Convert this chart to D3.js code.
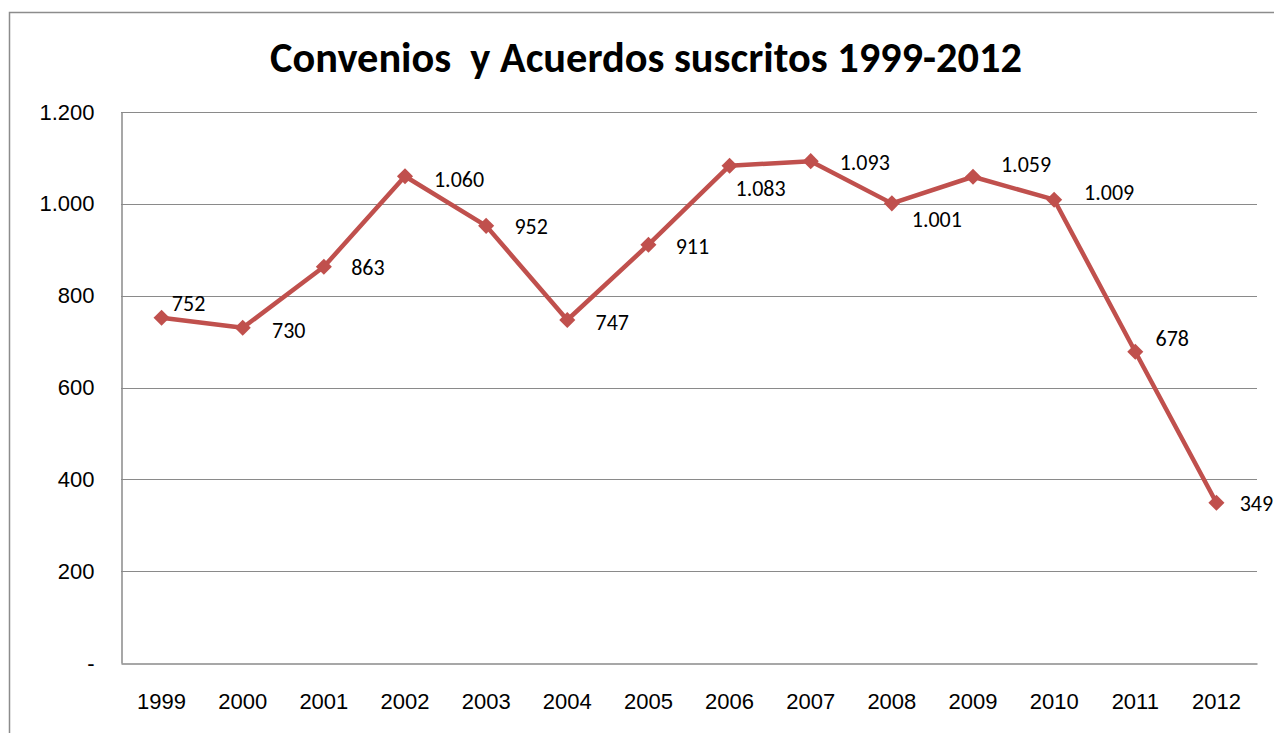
<!DOCTYPE html>
<html>
<head>
<meta charset="utf-8">
<script src="https://cdn.jsdelivr.net/npm/d3@7"></script>
<style>
  html, body { margin: 0; padding: 0; background: #fff; }
  svg { display: block; font-family: Carlito, "Open Sans", "Liberation Sans", sans-serif; }
</style>
</head>
<body>
<script>
// Chart data
const years = ["1999", "2000", "2001", "2002", "2003", "2004", "2005", "2006", "2007", "2008", "2009", "2010", "2011", "2012"];
const convenios = [752, 730, 863, 1060, 952, 747, 911, 1083, 1093, 1001, 1059, 1009, 678, 349];
const yTicks = [0, 200, 400, 600, 800, 1000, 1200];

// Where each data label sits relative to its marker (dx, dy of label centre)
const labelPlacement = [
  [27, -14], [46, 3], [44, 1], [54, 3], [45, 1], [45, 2], [44, 2],
  [31, 23], [54, 1], [45, 16], [53, -12], [55, -7], [37, -13], [40, 1]
];

const width = 1274;
const height = 733;
const margin = { top: 112, right: 17, bottom: 70, left: 121 };
const fontSize = 22;

const locale = d3.formatLocale({ decimal: ",", thousands: ".", grouping: [3], currency: ["", ""] });
const fmt = locale.format(",d");
const tickFmt = (d) => (d === 0 ? "-" : fmt(d));

const svg = d3.select("body")
  .append("svg")
  .attr("width", width)
  .attr("height", height);

// Outer chart border (runs off the right and bottom edges)
svg.append("rect")
  .attr("x", 9.5)
  .attr("y", 12.5)
  .attr("width", width + 10)
  .attr("height", height + 10)
  .attr("fill", "none")
  .attr("stroke", "#8c8c8c")
  .attr("stroke-width", 1.5);

const x = d3.scaleBand()
  .domain(years)
  .range([margin.left, width - margin.right]);

const y = d3.scaleLinear()
  .domain([0, 1200])
  .range([height - margin.bottom, margin.top]);

// Gridlines
svg.append("g")
  .selectAll("line")
  .data(yTicks.filter((d) => d > 0))
  .enter()
  .append("line")
  .attr("x1", margin.left)
  .attr("x2", width - margin.right)
  .attr("y1", (d) => Math.round(y(d)) + 0.5)
  .attr("y2", (d) => Math.round(y(d)) + 0.5)
  .attr("stroke", "#8a8a8a")
  .attr("stroke-width", 1.2);

// Y axis
const yAxis = svg.append("g")
  .attr("transform", `translate(${margin.left + 0.5},0)`)
  .call(d3.axisLeft(y).tickValues(yTicks).tickFormat(tickFmt).tickSize(0).tickPadding(27));
yAxis.select(".domain").attr("stroke", "#8a8a8a").attr("stroke-width", 1.5);
yAxis.selectAll("text").attr("font-size", fontSize).attr("fill", "#000");

// X axis
const xAxis = svg.append("g")
  .attr("transform", `translate(0,${Math.round(y(0)) + 0.5})`)
  .call(d3.axisBottom(x).tickSize(0).tickPadding(30));
xAxis.select(".domain").attr("stroke", "#8a8a8a").attr("stroke-width", 1.5);
xAxis.selectAll("text").attr("font-size", fontSize).attr("fill", "#000");

const cx = (i) => x(years[i]) + x.bandwidth() / 2;

// Line
const line = d3.line()
  .x((d, i) => cx(i))
  .y((d) => y(d));

svg.append("path")
  .datum(convenios)
  .attr("d", line)
  .attr("fill", "none")
  .attr("stroke", "#c0504d")
  .attr("stroke-width", 4.5)
  .attr("stroke-linejoin", "round");

// Diamond markers
svg.append("g")
  .selectAll("path")
  .data(convenios)
  .enter()
  .append("path")
  .attr("transform", (d, i) => `translate(${cx(i)},${y(d)})`)
  .attr("d", d3.symbol(d3.symbolDiamond2, 165)())
  .attr("fill", "#c0504d");

// Data labels
svg.append("g")
  .selectAll("text")
  .data(convenios)
  .enter()
  .append("text")
  .attr("x", (d, i) => cx(i) + labelPlacement[i][0])
  .attr("y", (d, i) => y(d) + labelPlacement[i][1])
  .attr("text-anchor", "middle")
  .attr("dominant-baseline", "central")
  .attr("font-size", fontSize)
  .attr("fill", "#000")
  .text((d) => fmt(d));

// Title, scaled to the reference width
const title = svg.append("text")
  .attr("x", 646)
  .attr("y", 57)
  .attr("text-anchor", "middle")
  .attr("dominant-baseline", "central")
  .attr("font-size", 36)
  .attr("font-weight", "bold")
  .attr("fill", "#000")
  .attr("xml:space", "preserve")
  .text("Convenios  y Acuerdos suscritos 1999-2012");
const tw = title.node().getComputedTextLength();
title.attr("font-size", 36 * 752 / tw);
</script>
</body>
</html>
